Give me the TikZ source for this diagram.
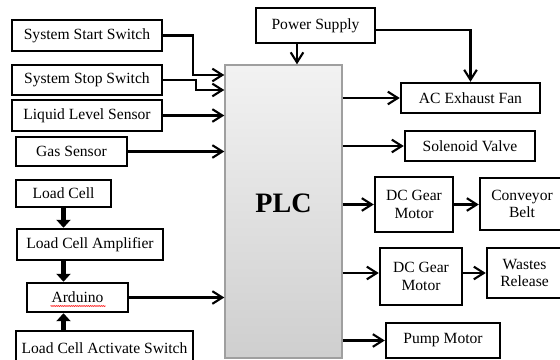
\documentclass[tikz,border=0pt]{standalone}
\usepackage{fontspec}
\setmainfont{Liberation Serif}
\usepackage{tikz}
\usetikzlibrary{positioning,arrows.meta,calc,decorations.pathmorphing}
\tikzset{
    >={Straight Barb[length=3mm,width=3.8mm,line width=1.8pt]},
    block/.style={rectangle, draw, line width=2.1pt, fill=white, align=center, inner sep=1pt, font=\fontsize{13.3}{15}\selectfont},
    controller/.style={rectangle, draw=gray!75, line width=1.2pt, top color=gray!10, bottom color=gray!38, font=\fontsize{24}{26}\selectfont\bfseries},
    link/.style={->, line width=2pt},
    fatlink/.style={-{Triangle[length=2.4mm,width=4.2mm]}, line width=4pt}
}

\begin{document}
\begin{tikzpicture}[x=0.3mm, y=-0.3mm]
    \useasboundingbox[fill=white] (0,0) rectangle (560,360);
    % inputs
    \node[block, minimum width=45mm, minimum height=9.3mm] (start) at (87,35.5) {System Start Switch};
    \node[block, minimum width=45mm, minimum height=9mm] (stop) at (87,80) {System Stop Switch};
    \node[block, minimum width=45mm, minimum height=9.3mm] (liquid) at (87,115.5) {Liquid Level Sensor};
    \node[block, minimum width=33.3mm, minimum height=8.7mm] (gas) at (71.5,151.5) {Gas Sensor};
    \node[block, minimum width=28.5mm, minimum height=8.1mm] (loadcell) at (63.5,193.5) {Load Cell};
    \node[block, minimum width=43.8mm, minimum height=9.3mm] (amplifier) at (90,244.5) {Load Cell Amplifier};
    \node[block, minimum width=30.3mm, minimum height=8.7mm] (arduino) at (77.5,297.5) {Arduino};
    \node[block, minimum width=53.1mm, minimum height=10.2mm] (activate) at (104.5,348) {Load Cell Activate Switch};
    % controller
    \node[block, minimum width=35.7mm, minimum height=10.5mm] (power) at (315.5,25.5) {Power Supply};
    \node[controller, minimum width=35.1mm, minimum height=87.9mm, text depth=5mm] (plc) at (283.5,211.5) {PLC};
    % outputs
    \node[block, minimum width=41.7mm, minimum height=9mm] (fan) at (470.5,98) {AC Exhaust Fan};
    \node[block, minimum width=39mm, minimum height=9mm] (valve) at (470,146) {Solenoid Valve};
    \node[block, minimum width=23.4mm, minimum height=16.5mm] (gear1) at (414,204.5) {DC Gear\\Motor};
    \node[block, minimum width=25.2mm, minimum height=15.6mm] (conveyor) at (522,204) {Conveyor\\Belt};
    \node[block, minimum width=24.6mm, minimum height=17.1mm] (gear2) at (421,276.5) {DC Gear\\Motor};
    \node[block, minimum width=22.5mm, minimum height=15mm] (wastes) at (524.5,273) {Wastes\\Release};
    \node[block, minimum width=34.2mm, minimum height=10.5mm] (pump) at (443,340.5) {Pump Motor};

    \draw[red, line width=0.5pt, decorate, decoration={snake, amplitude=0.35pt, segment length=1.6pt}]
        ($(arduino.center)+(-27,8.5)$) -- ++(55,0);

    \draw[link] (start.east) -- ++(30,0) |- (plc.west |- 0,75);
    \draw[link] (stop.east) -- ++(33,0) |- (plc.west |- 0,90);
    \draw[link] (liquid.east) -- (liquid.east -| plc.west);
    \draw[link] (gas.east) -- (gas.east -| plc.west);
    \draw[link] (arduino.east) -- (arduino.east -| plc.west);
    \draw[link] (power.south -| 297,0) -- (297,0 |- plc.north);
    \draw[link] (power.east |- 0,30) -| (fan.north);

    \draw[link] (plc.east |- fan.west) -- (fan.west);
    \draw[link] (plc.east |- valve.west) -- (valve.west);
    \draw[link] (plc.east |- gear1.west) -- (gear1.west);
    \draw[link] (gear1.east) -- (gear1.east -| conveyor.west);
    \draw[link] (plc.east |- wastes.west) -- (gear2.west |- wastes.west);
    \draw[link] (gear2.east |- wastes.west) -- (wastes.west);
    \draw[link] (plc.east |- pump.west) -- (pump.west);

    \draw[fatlink] (loadcell.south) -- (loadcell.south |- amplifier.north);
    \draw[fatlink] (amplifier.south -| loadcell.south) -- (loadcell.south |- arduino.north);
    \draw[fatlink] (activate.north -| loadcell.south) -- (loadcell.south |- arduino.south);
\end{tikzpicture}
\end{document}
